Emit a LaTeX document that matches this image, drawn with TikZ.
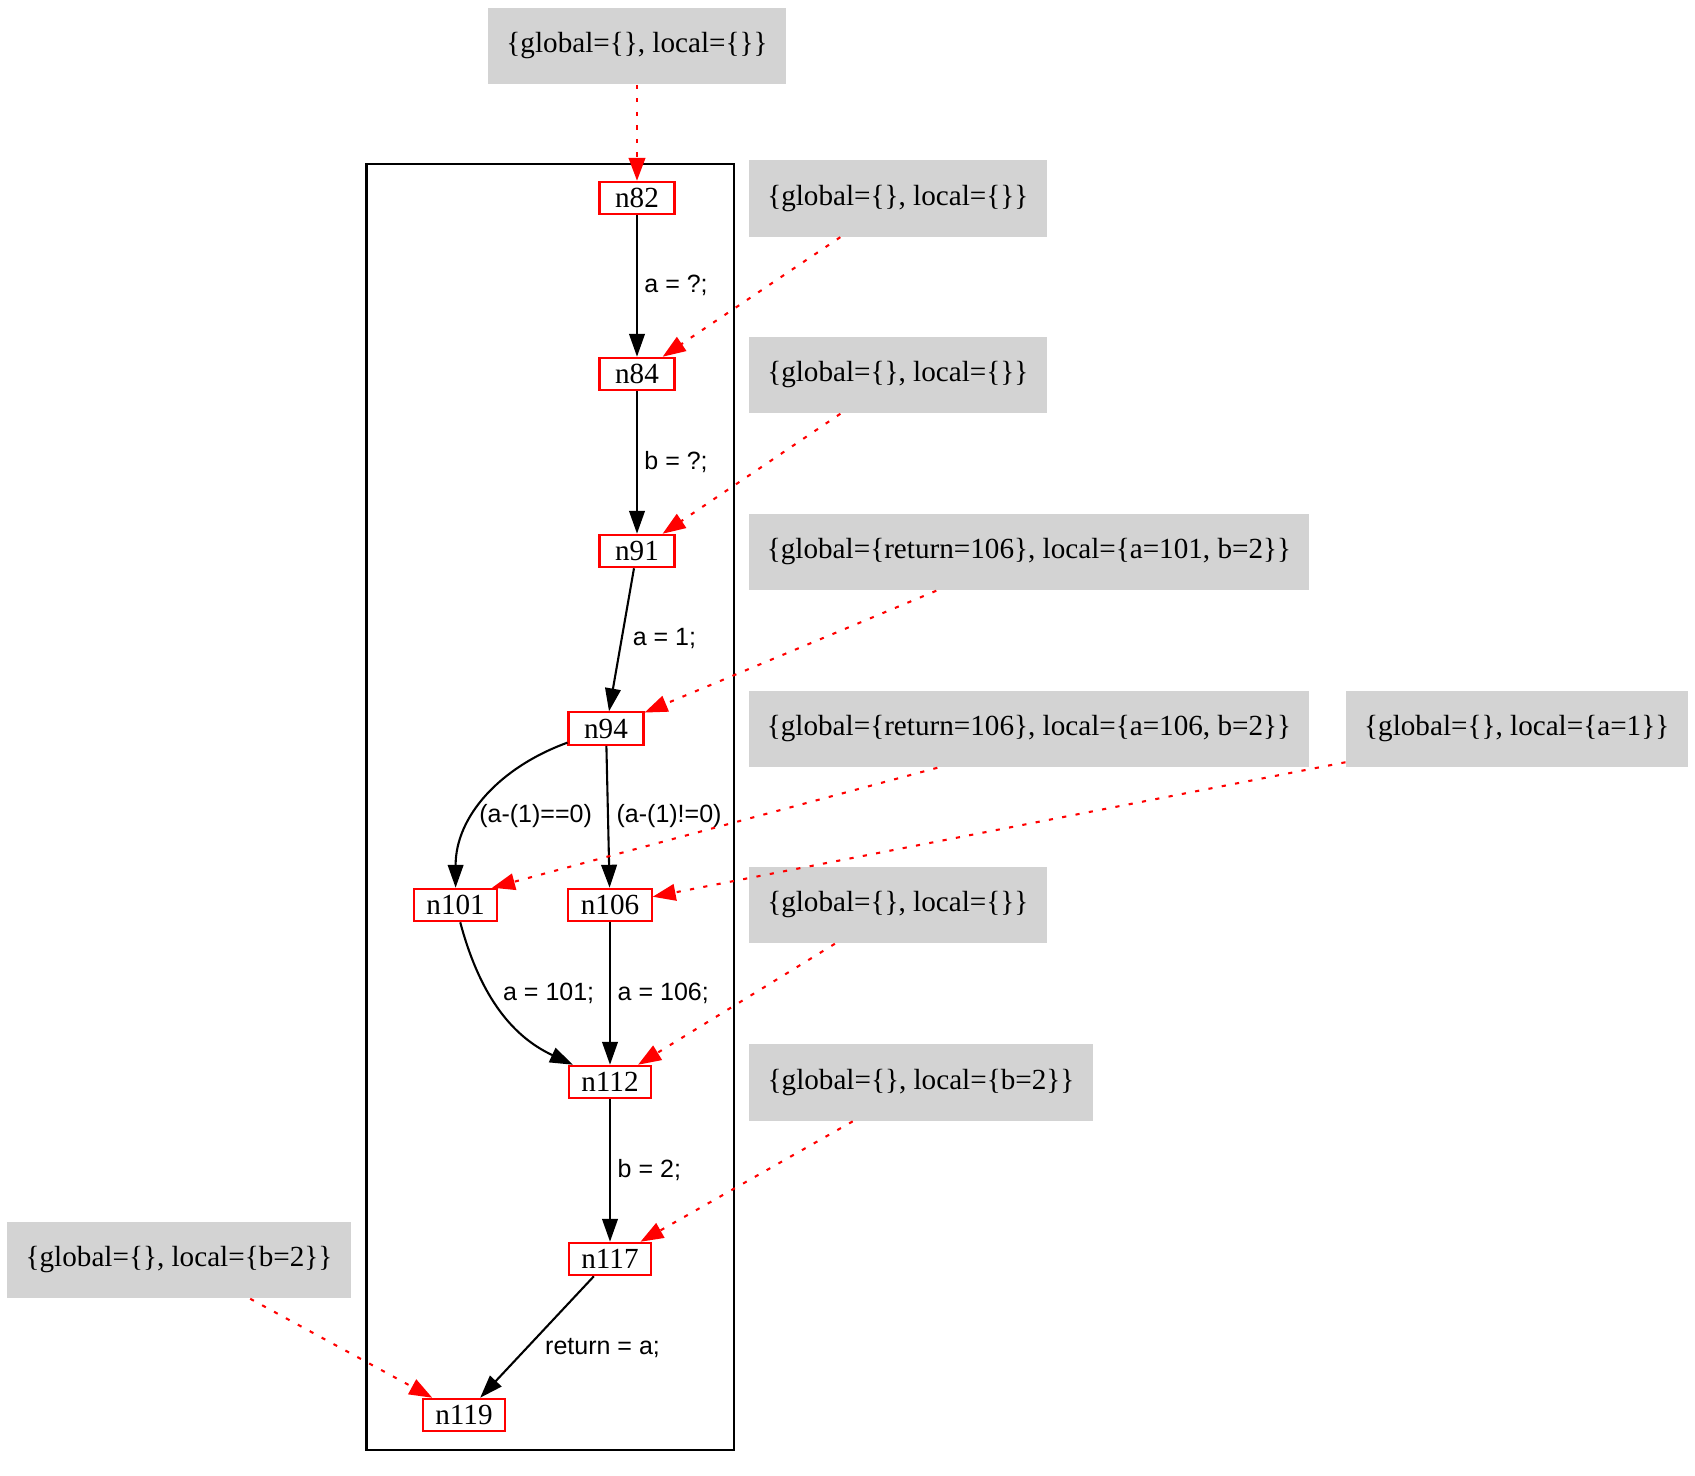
\documentclass[tikz,border=0pt]{standalone}
\usepackage{fontspec}
\setmainfont{Liberation Serif}
\newfontfamily\edgefont{Liberation Sans}
\usetikzlibrary{arrows.meta}
\definecolor{stategray}{HTML}{D3D3D3}
\definecolor{cfgred}{HTML}{FF0000}

\begin{document}
\begin{tikzpicture}[x=0.48pt, y=-0.48pt,
    every node/.style={font=\fontsize{14}{16}\selectfont},
    cfg/.style={draw=cfgred, line width=1pt, fill=white, minimum width=36pt, minimum height=15.6pt, inner xsep=6pt, inner ysep=0pt},
    statebox/.style={fill=stategray, minimum height=36.8pt, inner xsep=8.8pt},
    flow/.style={-{Triangle[length=11pt, width=7.5pt]}, line width=1pt, black},
    info/.style={-{Triangle[length=11pt, width=8pt]}, line width=1pt, cfgred, dash pattern=on 2pt off 4.5pt},
    lbl/.style={font=\edgefont\fontsize{12}{14}\selectfont, anchor=west, inner sep=0pt}
]
\useasboundingbox (0,0) rectangle (1695,1475);

% cluster
\draw[line width=1pt] (366.5,164.3) rectangle (734,1449.6);

% CFG nodes
\node[cfg] (n82) at (637,198) {n82};
\node[cfg] (n84) at (637,374) {n84};
\node[cfg] (n91) at (637,551) {n91};
\node[cfg] (n94) at (606,728.6) {n94};
\node[cfg] (n101) at (455.6,905) {n101};
\node[cfg] (n106) at (610,905) {n106};
\node[cfg] (n112) at (610,1082) {n112};
\node[cfg] (n117) at (610,1259) {n117};
\node[cfg] (n119) at (464,1415) {n119};

% state boxes
\node[statebox] (st82) at (637,46) {\{global=\{\}, local=\{\}\}};
\node[statebox] (st84) at (897.8,198.4) {\{global=\{\}, local=\{\}\}};
\node[statebox] (st91) at (897.8,375) {\{global=\{\}, local=\{\}\}};
\node[statebox] (st94) at (1029,552) {\{global=\{return=106\}, local=\{a=101, b=2\}\}};
\node[statebox] (st101) at (1029,729) {\{global=\{return=106\}, local=\{a=106, b=2\}\}};
\node[statebox] (st106) at (1516.7,729) {\{global=\{\}, local=\{a=1\}\}};
\node[statebox] (st112) at (897.8,905) {\{global=\{\}, local=\{\}\}};
\node[statebox] (st117) at (921,1082.6) {\{global=\{\}, local=\{b=2\}\}};
\node[statebox] (st119) at (179,1260) {\{global=\{\}, local=\{b=2\}\}};

% control flow
\draw[flow] (n82) -- (n84);
\draw[flow] (n84) -- (n91);
\draw[flow] (n91) -- (n94);
\draw[flow] (n94) to[out=200, in=90] (n101);
\draw[flow] (n94) -- (n106);
\draw[flow] (n101) to[out=-75, in=155] (n112);
\draw[flow] (n106) -- (n112);
\draw[flow] (n112) -- (n117);
\draw[flow] (n117) -- (n119);

% edge labels
\node[lbl] (l84) at (644,285.4) {a = ?;};
\node[lbl] (l91) at (644,461.6) {b = ?;};
\node[lbl] (l94) at (632.4,638.9) {a = 1;};
\node[lbl] (l101) at (478.9,816.2) {(a-(1)==0)};
\node[lbl] (l106) at (616.2,816.2) {(a-(1)!=0)};
\node[lbl] (l112a) at (502.7,993.4) {a = 101;};
\node[lbl] (l112b) at (617.3,993.4) {a = 106;};
\node[lbl] (l117) at (617.3,1169.6) {b = 2;};
\node[lbl] (l119) at (544.8,1348) {return = a;};

% states to nodes
\draw[info] (st82) -- (n82);
\draw[info] (st84) -- (n84);
\draw[info] (st91) -- (n91);
\draw[info] (st94) -- (n94);
\draw[info] ([xshift=-44pt]st101.south) -- ([xshift=-3pt]n101.north east);
\draw[info] (st106) -- (n106);
\draw[info] (st112) -- (n112);
\draw[info] (st117) -- (n117);
\draw[info] (st119) -- (n119);

\end{tikzpicture}
\end{document}
